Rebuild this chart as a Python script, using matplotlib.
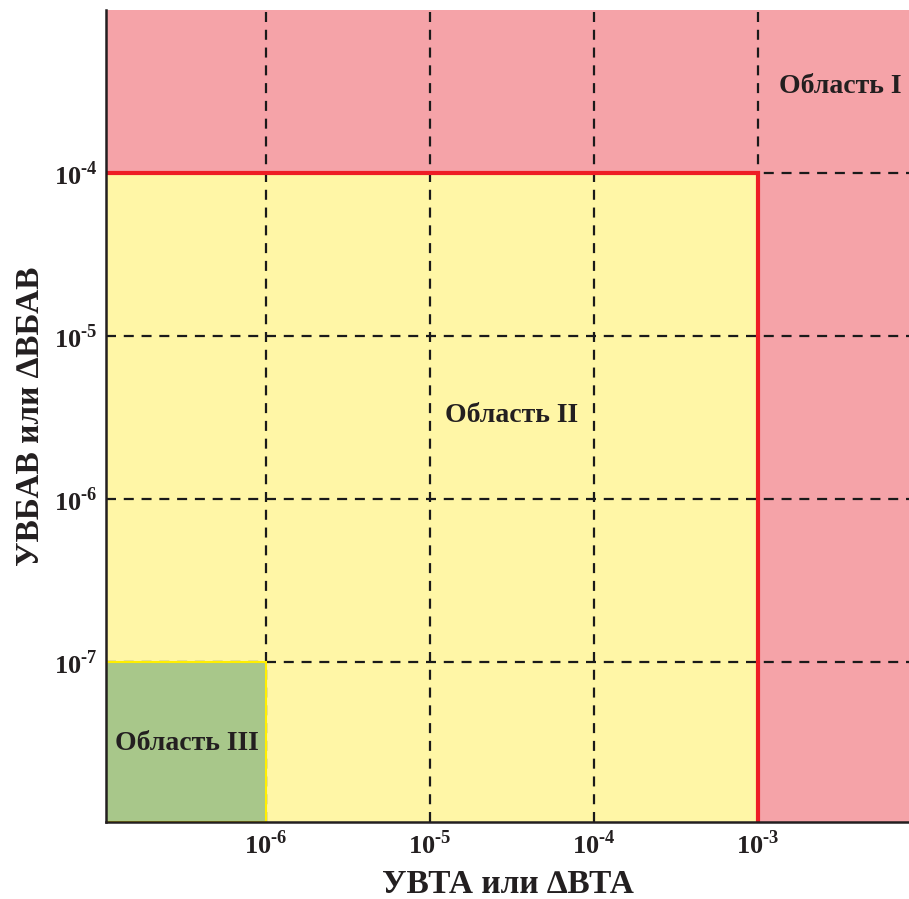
import numpy as np
import matplotlib
matplotlib.use('Agg')
import matplotlib.pyplot as plt
from matplotlib.patches import Rectangle

plt.rcParams['font.family'] = ['Liberation Serif', 'DejaVu Serif']
plt.rcParams['font.weight'] = 'bold'
plt.rcParams['mathtext.fontset'] = 'custom'
plt.rcParams['mathtext.rm'] = 'Liberation Serif:bold'
plt.rcParams['mathtext.bf'] = 'Liberation Serif:bold'

# axis ranges and ticks (log scale)
x_lim = [10 ** -6.976, 10 ** -2.079]
y_lim = [10 ** -7.98, 10 ** -3.0]
x_ticks = [1e-6, 1e-5, 1e-4, 1e-3]
y_ticks = [1e-7, 1e-6, 1e-5, 1e-4]
x_tick_labels = [r'$10^{\text{-}6}$', r'$10^{\text{-}5}$', r'$10^{\text{-}4}$', r'$10^{\text{-}3}$']
y_tick_labels = [r'$10^{\text{-}7}$', r'$10^{\text{-}6}$', r'$10^{\text{-}5}$', r'$10^{\text{-}4}$']

# region boundaries
region2_x, region2_y = 1e-3, 1e-4   # upper limits of Область II
region3_x, region3_y = 1e-6, 1e-7   # upper limits of Область III

region_names = ['Область I', 'Область II', 'Область III']
region_pos = [(10 ** -2.5, 10 ** -3.47), (10 ** -4.5, 10 ** -5.49), (10 ** -6.48, 10 ** -7.5)]

pink = '#F5A3A8'
yellow = '#FFF6A6'
green = '#A8C78A'
red = '#EE1C25'

fig = plt.figure(figsize=(9.09, 8.99), dpi=100)
ax = fig.add_axes([106 / 909, 77 / 899, 803 / 909, 812 / 899])
ax.set_xscale('log')
ax.set_yscale('log')
ax.set_xlim(x_lim)
ax.set_ylim(y_lim)
ax.set_facecolor(pink)

# Область II (yellow) below the grid
ax.add_patch(Rectangle((x_lim[0], y_lim[0]), region2_x - x_lim[0], region2_y - y_lim[0],
                       facecolor=yellow, edgecolor='none', zorder=0.3))

ax.set_axisbelow(True)
ax.grid(True, which='major', color='#1a1a1a', linestyle=(0, (4.5, 3.5)), linewidth=1.6)
ax.grid(False, which='minor')

# Область III (green) on top of the grid
ax.add_patch(Rectangle((x_lim[0], y_lim[0]), region3_x - x_lim[0], region3_y - y_lim[0],
                       facecolor=green, edgecolor='#FFEF00', linewidth=1.5, zorder=1))

# red border of Область II
ax.plot([x_lim[0], region2_x, region2_x], [region2_y, region2_y, y_lim[0]],
        color=red, linewidth=3, zorder=2, solid_joinstyle='miter')

ax.set_xticks(x_ticks)
ax.set_xticklabels(x_tick_labels)
ax.set_yticks(y_ticks)
ax.set_yticklabels(y_tick_labels)
ax.xaxis.set_minor_locator(matplotlib.ticker.NullLocator())
ax.yaxis.set_minor_locator(matplotlib.ticker.NullLocator())
ax.tick_params(length=0, labelsize=19, colors='#231f20')
ax.tick_params(axis='x', pad=6)
ax.tick_params(axis='y', pad=6)

for s in ['top', 'right']:
    ax.spines[s].set_visible(False)
for s in ['left', 'bottom']:
    ax.spines[s].set_linewidth(1.8)
    ax.spines[s].set_color('#231f20')
    ax.spines[s].set_zorder(3)

for name, (px, py) in zip(region_names, region_pos):
    ax.text(px, py, name, ha='center', va='center', fontsize=20,
            fontweight='bold', color='#231f20', zorder=4)

ax.set_xlabel('УВТА или ∆ВТА', fontsize=24, fontweight='bold', color='#231f20', labelpad=7)
ax.set_ylabel('УВБАВ или ∆ВБАВ', fontsize=24, fontweight='bold', color='#231f20', labelpad=6)

fig.savefig('out.png', dpi=100)
